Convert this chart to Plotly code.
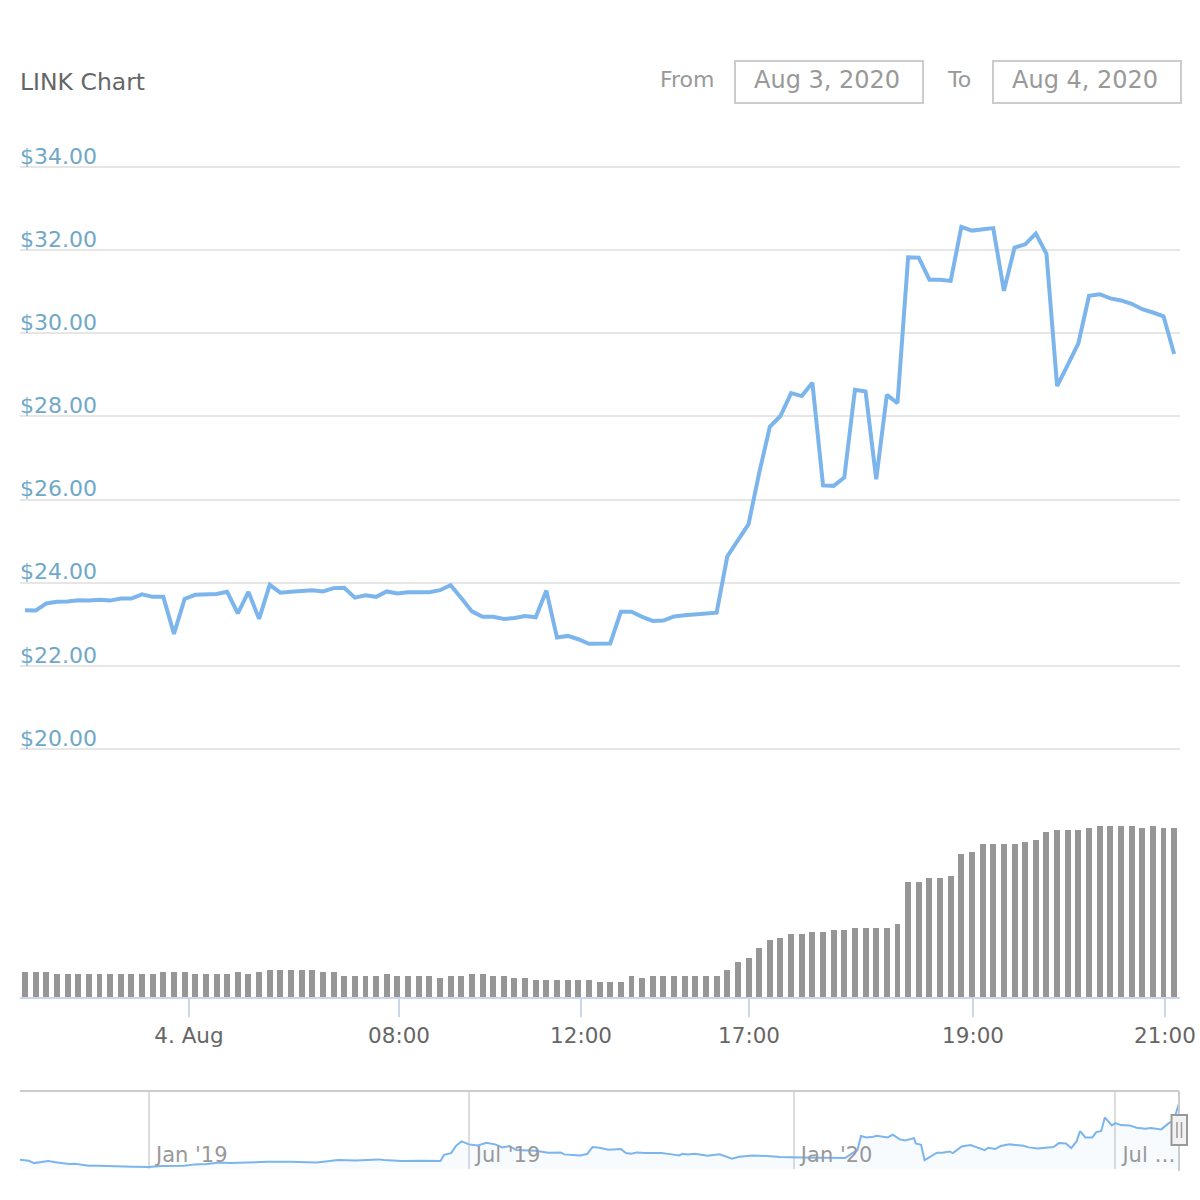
import pandas as pd
import plotly.graph_objects as go

# price per point (ordinal x axis, one entry per bar)
prices = [
    23.34, 23.33, 23.50, 23.54, 23.55, 23.58, 23.57, 23.59, 23.57, 23.62,
    23.62, 23.72, 23.66, 23.66, 22.77, 23.61, 23.71, 23.72, 23.73, 23.78,
    23.26, 23.78, 23.13, 23.95, 23.76, 23.78, 23.81, 23.82, 23.79, 23.87,
    23.88, 23.64, 23.70, 23.66, 23.79, 23.74, 23.77, 23.78, 23.77, 23.82,
    23.94, 23.63, 23.31, 23.18, 23.18, 23.13, 23.15, 23.20, 23.17, 23.81,
    22.68, 22.72, 22.64, 22.53, 22.53, 22.54, 23.30, 23.30, 23.18, 23.08,
    23.09, 23.19, 23.22, 23.24, 23.27, 23.28, 24.63, 25.01, 25.41, 26.64,
    27.75, 28.01, 28.56, 28.49, 28.81, 26.34, 26.33, 26.53, 28.64, 28.60,
    26.49, 28.52, 28.32, 31.83, 31.82, 31.29, 31.29, 31.26, 32.56, 32.47,
    32.49, 32.53, 31.02, 32.06, 32.14, 32.40, 31.91, 28.73, 29.24, 29.76,
    30.90, 30.94, 30.84, 30.79, 30.71, 30.58, 30.50, 30.41, 29.50,
]
# relative volume, no scale shown in the chart
volume = [
    25, 25, 25, 23, 23, 23, 23, 23, 23, 23, 23, 23, 23, 25, 25, 25, 23, 23, 23, 23,
    25, 23, 25, 27, 27, 27, 27, 27, 25, 25, 21, 21, 21, 21, 23, 21, 21, 21, 21, 19,
    21, 21, 23, 23, 21, 21, 19, 19, 17, 17, 17, 17, 17, 17, 15, 15, 15, 21, 19, 21,
    21, 21, 21, 21, 21, 21, 27, 35, 39, 49, 57, 59, 63, 63, 65, 65, 67, 67, 69, 69,
    69, 69, 73, 115, 115, 119, 119, 121, 143, 145, 153, 153, 153, 153, 155, 157, 165,
    167, 167, 167, 169, 171, 171, 171, 171, 169, 171, 169, 169,
]
tick_pos = [15.41, 35.15, 52.26, 68.05, 89.10, 107.14]
tick_text = ["4. Aug", "08:00", "12:00", "17:00", "19:00", "21:00"]
price_ticks = [20, 22, 24, 26, 28, 30, 32, 34]

# navigator: days since 2019-01-01 and price
nav_days = [
    -73, -68, -65, -62, -57, -52, -45, -42, -34, -28, -19, -9, 0, 7, 20, 26, 33, 40, 46,
    52, 59, 67, 80, 95, 100, 107, 117, 130, 133, 143, 154, 165, 167, 171, 174, 177, 181,
    186, 191, 196, 200, 204, 208, 214, 219, 226, 233, 235, 244, 248, 251, 255, 260, 267,
    270, 273, 276, 281, 290, 296, 300, 302, 305, 309, 316, 323, 330, 334, 342, 350, 357,
    370, 383, 394, 398, 401, 403, 406, 410, 412, 418, 421, 425, 428, 433, 434, 437, 439,
    446, 449, 453, 455, 460, 465, 473, 475, 479, 482, 487, 495, 498, 503, 512, 515, 519,
    522, 525, 527, 530, 534, 536, 539, 541, 545, 547, 550, 555, 559, 564, 567, 573, 577,
    580, 583,
]
nav_prices = [
    1.44, 1.29, 0.92, 1.03, 1.24, 1.03, 0.77, 0.82, 0.51, 0.51, 0.40, 0.35, 0.30, 0.46,
    0.51, 0.72, 0.77, 1.03, 0.92, 0.98, 1.08, 1.13, 1.13, 1.03, 1.18, 1.39, 1.34, 1.50,
    1.39, 1.24, 1.29, 1.24, 2.22, 2.48, 3.68, 4.30, 3.84, 3.68, 4.10, 3.84, 3.37, 3.58,
    2.95, 2.85, 2.85, 2.54, 2.59, 2.28, 2.12, 2.33, 3.42, 3.32, 3.00, 3.11, 2.48, 2.38,
    2.59, 2.48, 2.48, 2.28, 2.12, 2.38, 2.28, 2.38, 2.07, 2.28, 1.60, 1.91, 2.12, 2.02,
    1.86, 1.81, 1.70, 1.70, 2.43, 2.95, 5.14, 4.93, 5.03, 5.19, 4.93, 5.34, 4.62, 4.46,
    4.82, 3.99, 3.78, 1.39, 2.54, 2.54, 2.74, 2.48, 3.52, 3.73, 2.95, 3.32, 3.11, 3.58,
    3.84, 3.63, 3.37, 3.21, 3.42, 4.04, 3.99, 3.26, 4.30, 5.92, 4.93, 4.93, 5.71, 5.92,
    8.05, 6.80, 7.16, 6.85, 6.80, 6.44, 6.28, 6.38, 6.18, 7.11, 7.53, 10.23,
]
nav_ticks = ["2019-01-01", "2019-07-01", "2020-01-01", "2020-07-01"]
nav_labels = ["Jan '19", "Jul '19", "Jan '20", "Jul \u2026"]

FONT = "DejaVu Sans"
H = 1200.0


def py(px):
    return 1 - px / H


nav_dates = pd.Timestamp("2019-01-01") + pd.to_timedelta(nav_days, unit="D")
idx = list(range(len(prices)))

fig = go.Figure()
fig.add_trace(go.Scatter(x=idx, y=prices, mode="lines", xaxis="x", yaxis="y",
                         line=dict(color="#7cb5ec", width=4)))
fig.add_trace(go.Bar(x=idx, y=volume, xaxis="x", yaxis="y2", width=0.56,
                     marker=dict(color="#969696", line=dict(width=0))))
fig.add_trace(go.Scatter(x=nav_dates, y=nav_prices, mode="lines", xaxis="x2", yaxis="y3",
                         fill="tozeroy", fillcolor="rgba(124,181,236,0.05)",
                         line=dict(color="#7cb5ec", width=2)))

shapes = [
    # date inputs
    dict(type="rect", xref="paper", yref="paper", x0=735 / H, x1=923 / H, y0=py(103), y1=py(61),
         line=dict(color="#cccccc", width=2)),
    dict(type="rect", xref="paper", yref="paper", x0=993 / H, x1=1181 / H, y0=py(103), y1=py(61),
         line=dict(color="#cccccc", width=2)),
    # navigator outline
    dict(type="line", xref="paper", yref="paper", x0=20 / H, x1=1179 / H, y0=py(1091), y1=py(1091),
         line=dict(color="#cccccc", width=2)),
    dict(type="line", xref="paper", yref="paper", x0=1179 / H, x1=1179 / H, y0=py(1091), y1=py(1171),
         line=dict(color="#cccccc", width=2)),
    # navigator handle
    dict(type="rect", xref="paper", yref="paper", x0=1171.5 / H, x1=1187 / H, y0=py(1145), y1=py(1115),
         fillcolor="#f2f2f2", line=dict(color="#999999", width=2)),
    dict(type="line", xref="paper", yref="paper", x0=1177 / H, x1=1177 / H, y0=py(1138), y1=py(1122),
         line=dict(color="#999999", width=1.5)),
    dict(type="line", xref="paper", yref="paper", x0=1181.5 / H, x1=1181.5 / H, y0=py(1138), y1=py(1122),
         line=dict(color="#999999", width=1.5)),
]

annotations = [
    dict(text="LINK Chart", x=18 / H, y=py(82), font=dict(size=23.5, color="#666666")),
    dict(text="From", x=658 / H, y=py(80), font=dict(size=22, color="#999999")),
    dict(text="Aug 3, 2020", x=752 / H, y=py(80), font=dict(size=24, color="#999999")),
    dict(text="To", x=945 / H, y=py(80), font=dict(size=22, color="#999999")),
    dict(text="Aug 4, 2020", x=1010 / H, y=py(80), font=dict(size=24, color="#999999")),
]
for a in annotations:
    a.update(xref="paper", yref="paper", xanchor="left", yanchor="middle", showarrow=False)

fig.update_layout(
    width=1200, height=1200, autosize=False,
    margin=dict(l=0, r=0, t=0, b=0),
    paper_bgcolor="white", plot_bgcolor="white",
    showlegend=False, bargap=0,
    font=dict(family=FONT),
    shapes=shapes, annotations=annotations,
    xaxis=dict(domain=[20 / H, 1180 / H], range=[-0.47, 108.55], anchor="y2", automargin=False,
               showgrid=False, zeroline=False, showline=True, linecolor="#ccd6eb", linewidth=2,
               tickmode="array", tickvals=tick_pos, ticktext=tick_text,
               ticks="outside", ticklen=18, tickcolor="#ccd6eb", tickwidth=1.5,
               tickfont=dict(size=21.5, color="#666666")),
    # one dollar of padding each side so the inside labels at 20 and 34 are kept
    yaxis=dict(domain=[py(790.57), py(125.43)], range=[19, 35], automargin=False,
               tickmode="array", tickvals=price_ticks,
               gridcolor="#e6e6e6", gridwidth=1.5, zeroline=False, showline=False,
               ticks="", ticklabelposition="inside", tickformat="$.2f",
               ticklabelshift=-11, ticklabelstandoff=-3,
               tickfont=dict(size=22, color="#6fa8c9")),
    yaxis2=dict(domain=[py(997), py(826)], range=[0, 171], anchor="x", automargin=False,
                showgrid=False, zeroline=False, showticklabels=False, ticks=""),
    xaxis2=dict(domain=[20 / H, 1179 / H], range=["2018-10-20", "2020-08-06"], anchor="y3",
                type="date", tickmode="array", tickvals=nav_ticks, ticktext=nav_labels,
                automargin=False,
                showgrid=True, gridcolor="#dddddd", gridwidth=1.5, zeroline=False, showline=False,
                ticks="", ticklabelposition="inside right", ticklabelstandoff=-3, ticklabelshift=7,
                ticklabeloverflow="allow",
                tickfont=dict(size=21, color="#999999")),
    yaxis3=dict(domain=[py(1170) + 1 / H, py(1091) + 1 / H], range=[0, 12.32], anchor="x2",
                automargin=False,
                showgrid=False, zeroline=False, showticklabels=False, ticks=""),
)

# the default body margin would push the 1200px figure past the window
fig.write_html("out.html", config=dict(displayModeBar=False, responsive=False),
               post_script="document.body.style.margin = '0';")
